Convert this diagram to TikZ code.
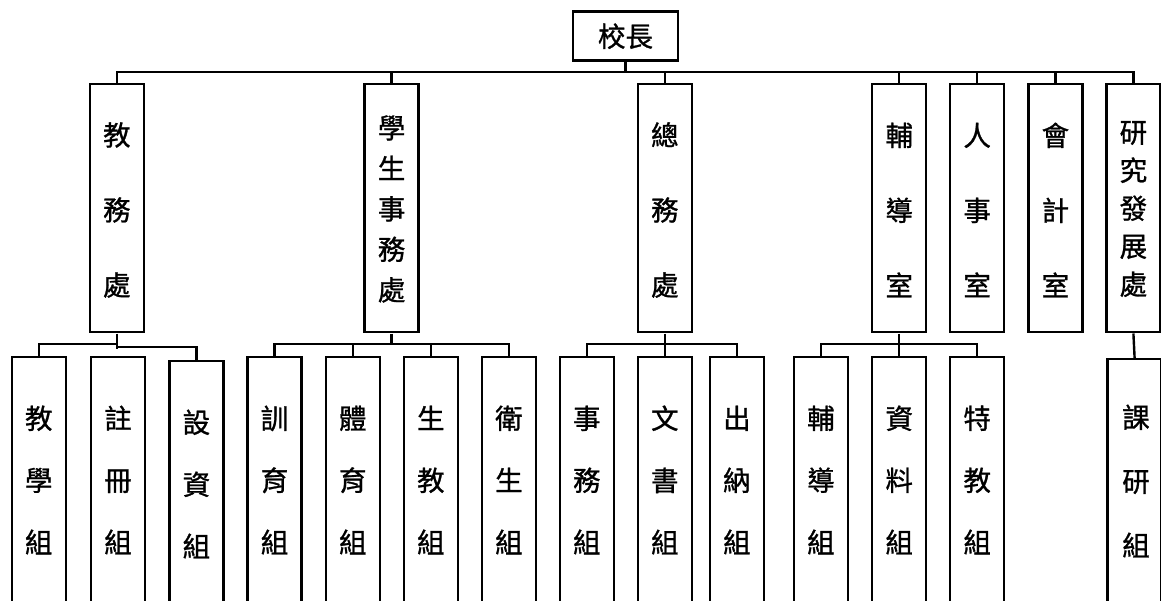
\documentclass[tikz,border=0pt]{standalone}
\usepackage{fontspec}
\newfontfamily\cjk[FakeBold=1]{Noto Sans CJK TC}
\begin{document}
\begin{tikzpicture}[x=1pt,y=-1pt,
  box/.style={draw, line width=2.4pt, minimum width=54pt, inner sep=0pt},
  topbox/.style={box, minimum height=248pt},
  lowbox/.style={box, minimum height=280pt, anchor=north},
  vt/.style={font=\cjk\fontsize{27.5}{#1}\selectfont, align=center, inner sep=0pt},
  conn/.style={line width=2.4pt}]
\clip (0,0) rectangle (1161,601);
\fill[white] (0,0) rectangle (1161,601);
% principal
\node[box, minimum width=105pt, minimum height=49pt, font=\cjk\fontsize{27.5}{30}\selectfont] (p) at (625.5,36.2) {校長};
% top level
\node[topbox] (jw) at (116.8,208.3) {};
\node[topbox] (xs) at (391.6,208.3) {};
\node[topbox] (zw) at (664.8,208.3) {};
\node[topbox] (fd) at (899.2,208.3) {};
\node[topbox] (rs) at (977.2,208.3) {};
\node[topbox] (kj) at (1055.4,208.3) {};
\node[topbox] (yf) at (1133.4,208.3) {};
\node[vt=75] (jwt) at (116.8,210) {教\\務\\處};
\node[vt=40.5] (xst) at (391.6,209) {學\\生\\事\\務\\處};
\node[vt=75] (zwt) at (664.8,210) {總\\務\\處};
\node[vt=75] (fdt) at (899.2,210) {輔\\導\\室};
\node[vt=75] (rst) at (977.2,210) {人\\事\\室};
\node[vt=75] (kjt) at (1055.4,210) {會\\計\\室};
\node[vt=38] (yft) at (1133.4,209) {研\\究\\發\\展\\處};
% low level
\node[lowbox] (a1) at (38.7,356) {};
\node[lowbox] (a2) at (118,356) {};
\node[lowbox] (a3) at (196.4,360) {};
\node[lowbox] (b1) at (274.5,356) {};
\node[lowbox] (b2) at (352.8,356) {};
\node[lowbox] (b3) at (430.8,356) {};
\node[lowbox] (b4) at (508.9,356) {};
\node[lowbox] (c1) at (586.8,356) {};
\node[lowbox] (c2) at (664.8,356) {};
\node[lowbox] (c3) at (736.9,356) {};
\node[lowbox] (d1) at (820.9,356) {};
\node[lowbox] (d2) at (899.2,356) {};
\node[lowbox] (d3) at (977.2,356) {};
\node[lowbox] (e1) at (1134.6,358) {};
\node[vt=62] (a1t) at (38.7,480) {教\\學\\組};
\node[vt=62] (a2t) at (118,480) {註\\冊\\組};
\node[vt=62] (a3t) at (196.4,484) {設\\資\\組};
\node[vt=62] (b1t) at (274.5,480) {訓\\育\\組};
\node[vt=62] (b2t) at (352.8,480) {體\\育\\組};
\node[vt=62] (b3t) at (430.8,480) {生\\教\\組};
\node[vt=62] (b4t) at (508.9,480) {衛\\生\\組};
\node[vt=62] (c1t) at (586.8,480) {事\\務\\組};
\node[vt=62] (c2t) at (664.8,480) {文\\書\\組};
\node[vt=62] (c3t) at (736.9,480) {出\\納\\組};
\node[vt=62] (d1t) at (820.9,480) {輔\\導\\組};
\node[vt=62] (d2t) at (899.2,480) {資\\料\\組};
\node[vt=62] (d3t) at (977.2,480) {特\\教\\組};
\node[vt=64] (e1t) at (1136,481) {課\\研\\組};
% buses
\coordinate (bus) at (0,72);
\coordinate (sub) at (0,344);
\coordinate (subr) at (0,347);
\coordinate (subs) at (0,349);
\draw[conn] (p.south) -- (p.south |- bus);
\draw[conn] (jw.north) |- (yf.north |- bus) -- (yf.north);
\foreach \n in {xs,zw,fd,rs,kj} \draw[conn] (\n.north) -- (\n.north |- bus);
% 教務處 group
\draw[conn] (a1.north) |- (jw.south |- sub);
\draw[conn] (jw.south) -- (jw.south |- subs);
\draw[conn] (jw.south |- subr) -| (a3.north);
% 學生事務處 group
\draw[conn] (b1.north) |- (b4.north |- sub) -- (b4.north);
\foreach \n in {b2,b3} \draw[conn] (\n.north) -- (\n.north |- sub);
\draw[conn] (xs.south) -- (xs.south |- sub);
% 總務處 group
\draw[conn] (c1.north) |- (c3.north |- sub) -- (c3.north);
\draw[conn] (zw.south) -- (c2.north);
% 輔導室 group
\draw[conn] (d1.north) |- (d3.north |- sub) -- (d3.north);
\draw[conn] (fd.south) -- (d2.north);
% 研究發展處
\draw[conn] (yf.south) -- (e1.north);
\end{tikzpicture}
\end{document}
